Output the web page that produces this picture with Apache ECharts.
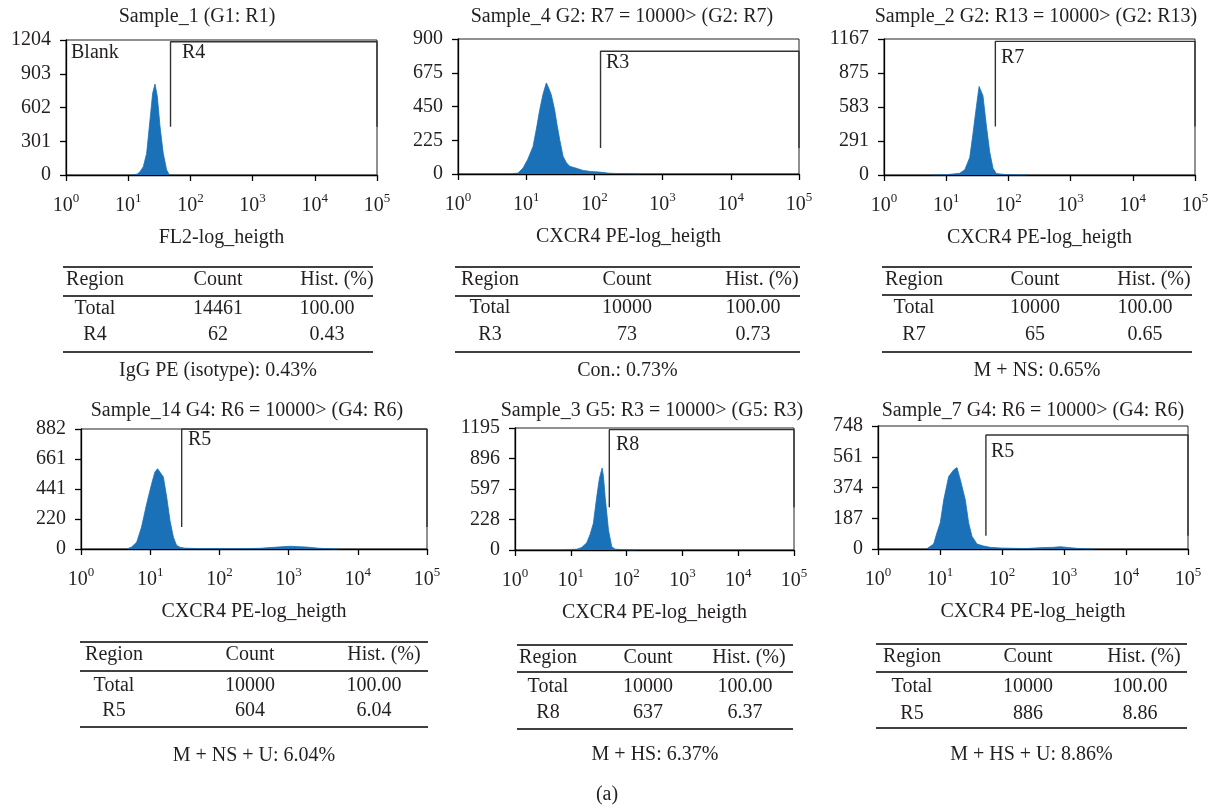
<!DOCTYPE html>
<html lang="en" style="height: 100%">
<head>
  <meta charset="utf-8" />
</head>
<body style="height: 100%; margin: 0; background: #fff">
  <div id="container" style="width: 1214px; height: 807px"></div>
  <script src="https://cdn.jsdelivr.net/npm/echarts@6/dist/echarts.min.js"></script>
  <script type="text/javascript">
    // ---- data ----
    var titles = [
      "Sample_1 (G1: R1)",
      "Sample_4 G2: R7 = 10000> (G2: R7)",
      "Sample_2 G2: R13 = 10000> (G2: R13)",
      "Sample_14 G4: R6 = 10000> (G4: R6)",
      "Sample_3 G5: R3 = 10000> (G5: R3)",
      "Sample_7 G4: R6 = 10000> (G4: R6)"
    ];
    var xNames = [
      "FL2-log_heigth",
      "CXCR4 PE-log_heigth",
      "CXCR4 PE-log_heigth",
      "CXCR4 PE-log_heigth",
      "CXCR4 PE-log_heigth",
      "CXCR4 PE-log_heigth"
    ];
    var yMax = [1204, 900, 1167, 882, 1195, 748];
    var yTickLabels = [
      ["0", "301", "602", "903", "1204"],
      ["0", "225", "450", "675", "900"],
      ["0", "291", "583", "875", "1167"],
      ["0", "220", "441", "661", "882"],
      ["0", "228", "597", "896", "1195"],
      ["0", "187", "374", "561", "748"]
    ];

    // histogram channels (linear FL units) and counts
    var hist1X = [12, 14, 15.5, 17.5, 19.8, 22.4, 24.7, 27, 29.4, 32.5, 36.6, 41.5, 46];
    var hist1Y = [0, 8, 30, 74, 193, 490, 728, 811, 699, 431, 193, 45, 0];
    var hist2X = [6.0, 7.6, 9.0, 10.6, 12.6, 14.1, 15.8, 17.6, 19.7, 21.3, 23.3, 26.1, 28.3, 31.0, 34.7, 38.9, 43.5, 54.6, 68, 90, 119, 158, 210, 370, 460];
    var hist2Y = [2, 6, 40, 100, 184, 300, 429, 530, 607, 575, 529, 429, 330, 229, 118, 75, 51, 38, 24, 16, 13, 6, 3, 1, 0];
    var hist3X = [6.2, 10, 16.5, 19.9, 23.9, 27, 30.6, 33.8, 36, 39, 44.3, 50, 56.6, 64, 93, 152, 200];
    var hist3Y = [0, 2, 15, 45, 150, 358, 588, 760, 774, 680, 420, 200, 57, 12, 3, 1, 0];
    var hist4X = [4.6, 5.4, 6.4, 7.5, 8.9, 10.5, 11.7, 12.8, 15.5, 17.3, 19.3, 21.6, 24, 27, 32, 52, 158, 385, 600, 1050, 1820, 2830, 4450, 5500];
    var hist4Y = [0, 15, 51, 162, 333, 480, 566, 590, 529, 382, 211, 88, 27, 12, 6, 3, 2, 5, 12, 20, 14, 5, 1, 0];
    var hist5X = [7.4, 12.8, 15.7, 19.3, 22.1, 25.4, 29.2, 32.6, 36.4, 38.5, 41.2, 47.3, 54.2, 62.2, 101, 150];
    var hist5Y = [2, 8, 25, 70, 150, 262, 524, 704, 802, 720, 524, 196, 33, 8, 2, 0];
    var hist6X = [6.2, 7.9, 8.9, 10.1, 11.5, 13.8, 16.6, 18.8, 21.3, 25.6, 29, 32.8, 39.5, 50.6, 64.7, 94, 154, 253, 415, 680, 870, 1260, 1620, 2350, 3000];
    var hist6Y = [3, 30, 97, 160, 299, 441, 481, 495, 420, 299, 158, 77, 30, 18, 10, 6, 4, 3, 8, 10, 14, 8, 4, 1, 0];
    var histX = [hist1X, hist2X, hist3X, hist4X, hist5X, hist6X];
    var histY = [hist1Y, hist2Y, hist3Y, hist4Y, hist5Y, hist6Y];

    // gate regions: lower channel, upper channel, bottom and top count of the bracket
    var gateNames = ["R4", "R3", "R7", "R5", "R8", "R5"];
    var gateLo = [47.9, 123, 61.7, 28.5, 49, 55];
    var gateHi = [100000, 100000, 100000, 100000, 100000, 100000];
    var gateBottom = [431, 173, 416, 162, 419, 81];
    var gateTop = [1189, 818, 1147, 882, 1179, 693];

    var tableHeader = ["Region", "Count", "Hist. (%)"];
    var tableRows = [
      [["Total", "14461", "100.00"], ["R4", "62", "0.43"]],
      [["Total", "10000", "100.00"], ["R3", "73", "0.73"]],
      [["Total", "10000", "100.00"], ["R7", "65", "0.65"]],
      [["Total", "10000", "100.00"], ["R5", "604", "6.04"]],
      [["Total", "10000", "100.00"], ["R8", "637", "6.37"]],
      [["Total", "10000", "100.00"], ["R5", "886", "8.86"]]
    ];
    var captions = [
      "IgG PE (isotype): 0.43%",
      "Con.: 0.73%",
      "M + NS: 0.65%",
      "M + NS + U: 6.04%",
      "M + HS: 6.37%",
      "M + HS + U: 8.86%"
    ];

    // ---- layout (pixels) ----
    var grids = [
      { left: 66, top: 40, width: 311, height: 135 },
      { left: 458, top: 39, width: 341, height: 135 },
      { left: 884, top: 39, width: 311, height: 136 },
      { left: 81, top: 429, width: 346, height: 120 },
      { left: 515, top: 428, width: 279, height: 122 },
      { left: 878, top: 426, width: 310, height: 123 }
    ];
    var titlePos = [[197, 17], [622, 17], [1036, 17], [247, 411], [652, 411], [1033, 411]];
    var gateLabelPos = [[182, 53], [606, 63], [1001, 58], [188, 440], [616, 445], [991, 452]];
    var tables = [
      { l: 63, r: 373, top: 267, head: 280, hline: 296, rows: [309, 335], bottom: 352, cap: 371, cols: [95, 218, 337], val3: 327 },
      { l: 455, r: 800, top: 267, head: 280, hline: 296, rows: [308, 335], bottom: 352, cap: 371, cols: [490, 627, 762], val3: 753 },
      { l: 882, r: 1192, top: 267, head: 280, hline: 295, rows: [308, 335], bottom: 352, cap: 371, cols: [914, 1035, 1154], val3: 1145 },
      { l: 80, r: 428, top: 642, head: 655, hline: 671, rows: [686, 711], bottom: 727, cap: 756, cols: [114, 250, 384], val3: 374 },
      { l: 517, r: 793, top: 645, head: 658, hline: 672, rows: [687, 713], bottom: 729, cap: 755, cols: [548, 648, 749], val3: 745 },
      { l: 876, r: 1187, top: 644, head: 657, hline: 672, rows: [687, 714], bottom: 728, cap: 755, cols: [912, 1028, 1144], val3: 1140 }
    ];

    var FONT = "'Liberation Serif', 'Times New Roman', serif";
    var FS = 20;
    var INK = "#231f20";
    var BLUE = "#1a71b8";

    function txt(x, y, s, align) {
      return {
        type: "text", x: x, y: y, silent: true,
        style: { text: s, fontFamily: FONT, fontSize: FS, fill: INK, align: align || "center", verticalAlign: "middle" }
      };
    }
    function hline(x1, x2, y) {
      return { type: "line", silent: true, shape: { x1: x1, y1: y, x2: x2, y2: y }, style: { stroke: "#000", lineWidth: 1.6 } };
    }

    var gridOpt = [], xAxes = [], yAxes = [], series = [], graphics = [];
    for (var i = 0; i < 6; i++) {
      var g = grids[i];
      gridOpt.push({ left: g.left, top: g.top, width: g.width, height: g.height, show: true, borderColor: "#222", borderWidth: 1, backgroundColor: "#fff" });
      xAxes.push({
        type: "log", logBase: 10, gridIndex: i, min: 1, max: 100000, splitNumber: 5,
        axisLine: { lineStyle: { color: "#000", width: 1.3 } },
        axisTick: { length: 6, lineStyle: { color: "#000", width: 1.3 } },
        minorTick: { show: false },
        splitLine: { show: false },
        axisLabel: {
          margin: 17, showMinLabel: true, showMaxLabel: true, color: INK,
          formatter: function (v) { return "{b|10}{s|" + Math.round(Math.log10(v)) + "}"; },
          rich: {
            b: { fontFamily: FONT, fontSize: FS, lineHeight: 27, color: INK },
            s: { fontFamily: FONT, fontSize: 13, verticalAlign: "top", color: INK }
          }
        },
        name: xNames[i], nameLocation: "middle", nameGap: 53,
        nameTextStyle: { fontFamily: FONT, fontSize: FS, color: INK }
      });
      (function (idx) {
        yAxes.push({
          type: "value", gridIndex: idx, min: 0, max: yMax[idx], interval: yMax[idx] / 4,
          axisLine: { show: true, lineStyle: { color: "#000", width: 1.3 } },
          axisTick: { show: true, length: 6, lineStyle: { color: "#000", width: 1.3 } },
          splitLine: { show: false },
          axisLabel: {
            margin: 15, color: INK, fontFamily: FONT, fontSize: FS,
            formatter: function (v) { return yTickLabels[idx][Math.round(v / (yMax[idx] / 4))]; }
          }
        });
      })(i);

      var pts = [];
      for (var k = 0; k < histX[i].length; k++) pts.push([histX[i][k], histY[i][k]]);
      series.push({
        type: "line", xAxisIndex: i, yAxisIndex: i, data: pts, showSymbol: false, silent: true,
        lineStyle: { color: BLUE, width: 0.8 }, areaStyle: { color: BLUE, opacity: 1 }, animation: false
      });
      series.push({
        type: "line", xAxisIndex: i, yAxisIndex: i, showSymbol: false, silent: true, animation: false,
        data: [[gateLo[i], gateBottom[i]], [gateLo[i], gateTop[i]], [gateHi[i], gateTop[i]], [gateHi[i], gateBottom[i]]],
        lineStyle: { color: "#333", width: 1.4 }
      });

      graphics.push(txt(titlePos[i][0], titlePos[i][1], titles[i]));
      graphics.push(txt(gateLabelPos[i][0], gateLabelPos[i][1], gateNames[i], "left"));

      var t = tables[i];
      graphics.push(hline(t.l, t.r, t.top), hline(t.l, t.r, t.hline), hline(t.l, t.r, t.bottom));
      graphics.push(txt(t.cols[0], t.head, tableHeader[0]), txt(t.cols[1], t.head, tableHeader[1]), txt(t.cols[2], t.head, tableHeader[2]));
      for (var r = 0; r < tableRows[i].length; r++) {
        var row = tableRows[i][r];
        graphics.push(txt(t.cols[0], t.rows[r], row[0]), txt(t.cols[1], t.rows[r], row[1]), txt(t.val3, t.rows[r], row[2]));
      }
      graphics.push(txt((t.l + t.r) / 2, t.cap, captions[i]));
    }
    graphics.push(txt(71, 53, "Blank", "left"));
    graphics.push(txt(607, 795, "(a)"));

    var dom = document.getElementById("container");
    var myChart = echarts.init(dom, null, { renderer: "canvas" });
    myChart.setOption({
      animation: false,
      backgroundColor: "#fff",
      grid: gridOpt,
      xAxis: xAxes,
      yAxis: yAxes,
      series: series,
      graphic: { elements: graphics }
    });
  </script>
</body>
</html>
